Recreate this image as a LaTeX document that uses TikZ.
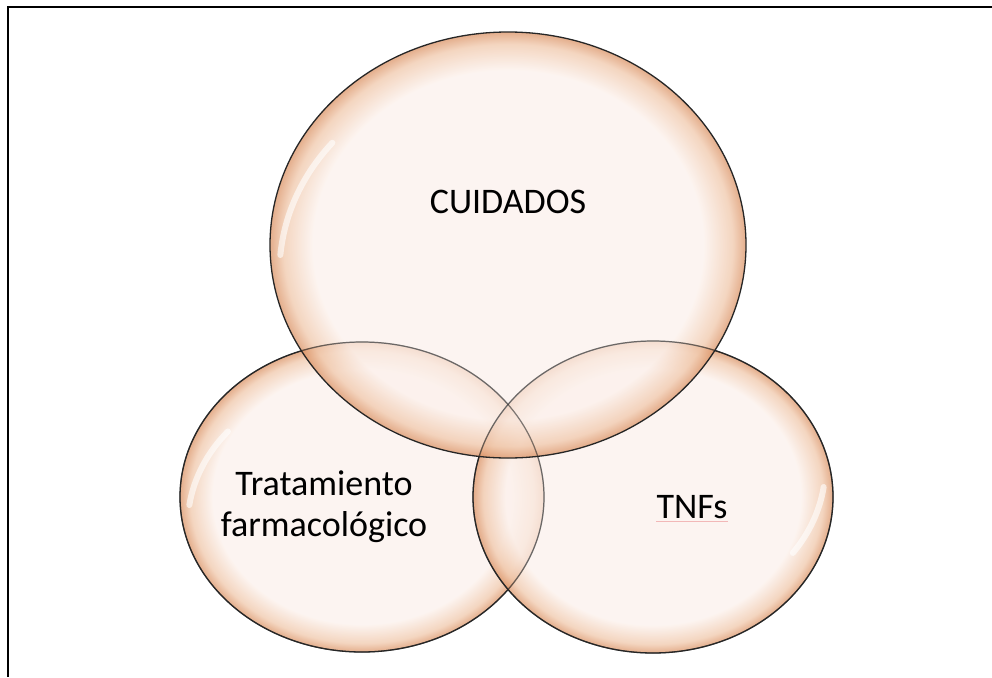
\documentclass[tikz,border=0pt]{standalone}
\usepackage{fontspec}
\setmainfont{Carlito}
\usetikzlibrary{shapes.geometric}
\definecolor{pale}{HTML}{FCF1EC}
\definecolor{rimtan}{HTML}{F0C6A8}
\definecolor{rimdark}{HTML}{DA8F60}
\definecolor{squiggle}{HTML}{F2B8B8}
\pgfdeclareradialshading{rimshade}{\pgfpoint{0bp}{0bp}}{color(0bp)=(pale); color(20.5bp)=(pale); color(23.6bp)=(rimtan); color(25bp)=(rimdark); color(50bp)=(rimdark)}
\tikzset{
  blob/.style={ellipse, draw=black!85, line width=1.3pt, shade, shading=rimshade, fill opacity=0.72, draw opacity=1, inner sep=0pt},
  outline/.style={ellipse, draw=black!85, line width=1.2pt, draw opacity=0.55, inner sep=0pt},
  label/.style={font=\fontsize{36}{41}\selectfont, text=black, align=center, inner sep=0pt},
  gloss/.style={white, line width=6pt, line cap=round, opacity=0.6},
  frameline/.style={black, line width=2pt}
}
\begin{document}
\begin{tikzpicture}[x=1pt,y=-1pt]
\useasboundingbox (0,0) rectangle (992,677);
\fill[white] (0,0) rectangle (992,677);
% frame (top and left edges)
\coordinate (ftr) at (992,7);
\coordinate (ftl) at (7.5,7);
\coordinate (fbl) at (7.5,677);
\draw[frameline] (ftr) -- (ftl) -- (fbl);
% ellipses
\node[blob, minimum width=364pt, minimum height=310pt] (trat) at (362,497) {};
\node[blob, minimum width=360pt, minimum height=312pt] (tnf) at (653,497) {};
\node[blob, minimum width=476pt, minimum height=426pt] (cuid) at (508,245) {};
% outlines seen through the overlapping shapes
\node[outline, minimum width=364pt, minimum height=310pt] (tratline) at (trat.center) {};
\node[outline, minimum width=360pt, minimum height=312pt] (tnfline) at (tnf.center) {};
% gloss highlights
\draw[gloss] ([shift={(11pt,-10pt)}]cuid.west) arc[start angle=175, end angle=140, x radius=226pt, y radius=202pt];
\draw[gloss] ([shift={(10pt,-8pt)}]trat.west) arc[start angle=172, end angle=140, x radius=172pt, y radius=146pt];
\draw[gloss] ([shift={(-10pt,10pt)}]tnf.east) arc[start angle=-8, end angle=-36, x radius=170pt, y radius=147pt];
% texts
\node[label] (tc) at (508,202) {CUIDADOS};
\node[label] (tt) at (324,507) {Tratamiento\\farmacológico};
\node[label] (tn) at (692,507) {TNFs};
\draw[squiggle, line width=0.8pt] ([yshift=-3pt]tn.south west) -- ([yshift=-3pt]tn.south east);
\end{tikzpicture}
\end{document}
